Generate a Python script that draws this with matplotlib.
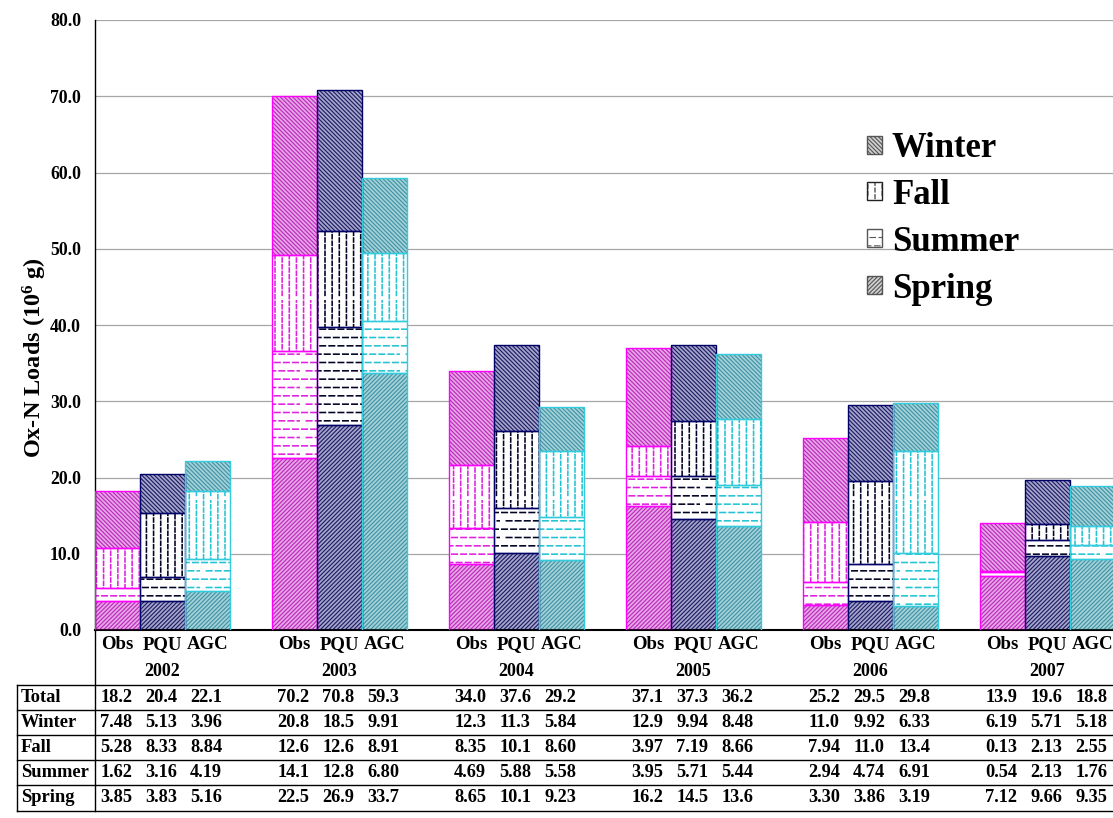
import numpy as np
import matplotlib
matplotlib.use('Agg')
import matplotlib.pyplot as plt
import matplotlib.hatch as mhatch
from matplotlib.path import Path
from matplotlib.patches import Patch
from matplotlib.lines import Line2D
from matplotlib.transforms import blended_transform_factory

# ---------------- data (rows = years, columns = Obs, PQU, AGC) ----------------
years = ['2002', '2003', '2004', '2005', '2006', '2007']
models = ['Obs', 'PQU', 'AGC']
total = [[18.2, 20.4, 22.1], [70.2, 70.8, 59.3], [34.0, 37.6, 29.2],
         [37.1, 37.3, 36.2], [25.2, 29.5, 29.8], [13.9, 19.6, 18.8]]
winter = [[7.48, 5.13, 3.96], [20.8, 18.5, 9.91], [12.3, 11.3, 5.84],
          [12.9, 9.94, 8.48], [11.0, 9.92, 6.33], [6.19, 5.71, 5.18]]
fall = [[5.28, 8.33, 8.84], [12.6, 12.6, 8.91], [8.35, 10.1, 8.60],
        [3.97, 7.19, 8.66], [7.94, 11.0, 13.4], [0.13, 2.13, 2.55]]
summer = [[1.62, 3.16, 4.19], [14.1, 12.8, 6.80], [4.69, 5.88, 5.58],
          [3.95, 5.71, 5.44], [2.94, 4.74, 6.91], [0.54, 2.13, 1.76]]
spring = [[3.85, 3.83, 5.16], [22.5, 26.9, 33.7], [8.65, 10.1, 9.23],
          [16.2, 14.5, 13.6], [3.30, 3.86, 3.19], [7.12, 9.66, 9.35]]
yticks = [0, 10, 20, 30, 40, 50, 60, 70, 80]


# ---------------- dashed hatch patterns (replace solid '-' and '|') ----------------
class DashedHorizontal(mhatch.HatchPatternBase):
    def __init__(self, hatch, density):
        self.rows = int(hatch.count('-') * density)
        self.per = 11
        self.num_vertices = self.rows * self.per * 2

    def set_vertices_and_codes(self, vertices, codes):
        k = 0
        for i in range(self.rows):
            y = (i + 0.5) / self.rows
            off = 0.5 if i % 2 else 0.0
            for j in range(self.per):
                x0 = ((j + off + 0.2) / self.per) % 1.0
                x1 = x0 + 0.6 / self.per
                vertices[k] = (x0, y)
                vertices[k + 1] = (x1, y)
                codes[k] = Path.MOVETO
                codes[k + 1] = Path.LINETO
                k += 2


class DashedVertical(mhatch.HatchPatternBase):
    def __init__(self, hatch, density):
        self.cols = int(round(hatch.count('|') * density * 7 / 6))
        self.per = 15
        self.num_vertices = self.cols * self.per * 2

    def set_vertices_and_codes(self, vertices, codes):
        k = 0
        for i in range(self.cols):
            x = (i + 0.5) / self.cols
            off = 0.5 if i % 2 else 0.0
            for j in range(self.per):
                y0 = ((j + off + 0.2) / self.per) % 1.0
                y1 = y0 + 0.6 / self.per
                vertices[k] = (x, y0)
                vertices[k + 1] = (x, y1)
                codes[k] = Path.MOVETO
                codes[k + 1] = Path.LINETO
                k += 2


mhatch._hatch_types[0] = DashedHorizontal
mhatch._hatch_types[1] = DashedVertical

plt.rcParams['font.family'] = ['Liberation Serif', 'DejaVu Serif']
plt.rcParams['font.weight'] = 'bold'
plt.rcParams['mathtext.default'] = 'regular'
plt.rcParams['hatch.linewidth'] = 0.8

W, H = 1113, 818
fig = plt.figure(figsize=(W / 100, H / 100), dpi=100)
ax = fig.add_axes([95 / W, 1 - 630 / H, (W - 95) / W, (630 - 20) / H])

G = 177 / 45.0  # group pitch in bar widths
ny = len(years)

outline = ['#FF00FF', '#000066', '#33CCDD']
fillc = ['#E8A4E8', '#A4A4CC', '#A4D0D8']
diagc = ['#B828B8', '#1A1A60', '#3C92A2']
dashc = ['#E020E0', '#000022', '#22C4D4']

season_data = [spring, summer, fall, winter]
season_hatch = ['////////', '--', '||', '\\' * 8]
season_filled = [True, False, False, True]

for j in range(3):
    xs = [i * G + j + 0.5 for i in range(ny)]
    bottom = np.zeros(ny)
    for sd, hatch, filled in zip(season_data, season_hatch, season_filled):
        h = np.array([sd[i][j] for i in range(ny)])
        face = fillc[j] if filled else 'white'
        hc = diagc[j] if filled else dashc[j]
        with plt.rc_context({'hatch.linewidth': 0.8 if filled else 1.15}):
            ax.bar(xs, h, width=1.0, bottom=bottom, color=face, edgecolor=hc,
                   linewidth=0, hatch=hatch, zorder=2)
        ax.bar(xs, h, width=1.0, bottom=bottom, fill=False,
               edgecolor=outline[j], linewidth=1.0, zorder=3)
        bottom = bottom + h

ax.set_xlim(0, (W - 95) / 45.0)
ax.set_ylim(0, 80)
ax.set_yticks(yticks)
ax.set_yticklabels([f'{v:.1f}' for v in yticks], fontsize=12.8, fontweight='bold')
ax.yaxis.grid(True, color='#A6A6A6', linewidth=0.9)
ax.set_axisbelow(True)
for s in ['top', 'right']:
    ax.spines[s].set_visible(False)
ax.spines['left'].set_linewidth(1.0)
ax.spines['bottom'].set_linewidth(1.5)
ax.tick_params(axis='y', length=0, pad=10)
ax.tick_params(axis='x', length=0, pad=4)

xt = [i * G + j + 0.5 for i in range(ny) for j in range(3)]
ax.set_xticks(xt)
ax.set_xticklabels(models * ny, fontsize=13.5, fontweight='bold')

tr = blended_transform_factory(ax.transData, fig.transFigure)
for i, yr in enumerate(years):
    ax.text(i * G + 1.5, 1 - 671 / H, yr, transform=tr, ha='center', va='center',
            fontsize=13, fontweight='bold', clip_on=False)

# y label
fig.text(35 / W, 1 - 358 / H, 'Ox-N Loads (10$^6$ g)', rotation=90, ha='center',
         va='center', fontsize=17.5, fontweight='bold')

# ---------------- data table ----------------
row_names = ['Total', 'Winter', 'Fall', 'Summer', 'Spring']
row_data = [total, winter, fall, summer, spring]
row_y = [697.5, 722.5, 747.5, 772.5, 797.5]


def fmt(v):
    return f'{v:.1f}' if v >= 10 else f'{v:.2f}'


for name, data, yp in zip(row_names, row_data, row_y):
    fig.text(21 / W, 1 - yp / H, name, ha='left', va='center', fontsize=13.3,
             fontweight='bold')
    for i in range(ny):
        for j in range(3):
            ax.text(i * G + j + 0.47, 1 - yp / H, fmt(data[i][j]), transform=tr,
                    ha='center', va='center', fontsize=13.2, fontweight='bold',
                    clip_on=False)

ft = fig.transFigure
for yp in [685, 710, 735, 760, 785, 811]:
    fig.add_artist(Line2D([17 / W, 1.0], [1 - yp / H, 1 - yp / H], transform=ft,
                          color='black', linewidth=1.0))
fig.add_artist(Line2D([17 / W, 17 / W], [1 - 685 / H, 1 - 811 / H], transform=ft,
                      color='black', linewidth=1.0))
fig.add_artist(Line2D([95 / W, 95 / W], [1 - 630 / H, 1 - 811 / H], transform=ft,
                      color='black', linewidth=1.0))

# ---------------- legend ----------------
handles = [
    Patch(facecolor='#D0D0D0', edgecolor='#555555', hatch='\\' * 8, label='Winter'),
    Patch(facecolor='white', edgecolor='#222222', hatch='||', label='Fall'),
    Patch(facecolor='white', edgecolor='#555555', hatch='--', label='Summer'),
    Patch(facecolor='#D0D0D0', edgecolor='#555555', hatch='////////', label='Spring'),
]
ax.legend(handles=handles, loc='upper left', bbox_to_anchor=(867 / W, 1 - 132 / H),
          bbox_transform=fig.transFigure, frameon=False,
          prop={'family': 'Liberation Serif', 'weight': 'bold', 'size': 25},
          handlelength=0.42, handleheight=0.42, handletextpad=0.3,
          labelspacing=0.40, borderpad=0, borderaxespad=0)

fig.savefig('out.png', dpi=100)
